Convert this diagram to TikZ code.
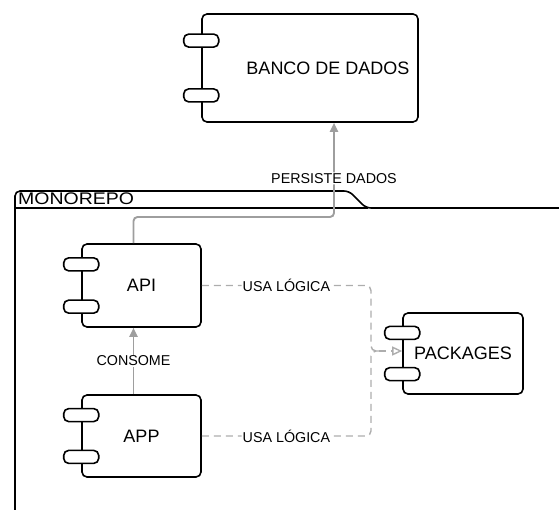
\documentclass[tikz,border=0pt]{standalone}
\usepackage{fontspec}
\setmainfont{Liberation Sans}
\usetikzlibrary{arrows.meta,calc}

\begin{document}
\begin{tikzpicture}[x=1pt,y=-1pt,>={Triangle[length=9pt,width=8pt]},
        font=\fontsize{18}{20}\selectfont]
    \tikzset{
        comp/.style={draw,line width=1.6pt,rounded corners=5pt,inner sep=0pt},
        tab/.style={draw,fill=white,line width=1.6pt,rounded corners=5pt},
        link/.style={draw=black!38,line width=1.9pt},
        dlink/.style={draw=black!32,line width=1.4pt,dash pattern=on 7pt off 5pt},
        lbl/.style={font=\fontsize{14.3}{16}\selectfont,fill=white,inner sep=1pt}
    }
    % two little tabs on the left side of a component
    \def\tabs#1{\foreach \tb in {0.25,0.75}
        \draw[tab] ($(#1.north west)!\tb!(#1.south west)+(-17.5,-6.5)$) rectangle ++(35,13);}
    \useasboundingbox (0,0) rectangle (559,510);
    %===========================================
    % container
    \draw[line width=1.6pt,rounded corners=5pt] (15,515) -- (15,191) -- (349,191)
        -- (366,208) -- (565,208);
    \draw[line width=1.6pt] (15,208) -- (368,208);
    \node[anchor=base west,inner sep=0pt,font=\fontsize{16.8}{18}\selectfont,
        xscale=1.16] (mono) at (18,205) {MONOREPO};
    %===========================================
    % components
    \node[comp,minimum width=216pt,minimum height=108pt] (db) at (310,68) {};
    \node (dbtxt) at ([xshift=18]db.center) {BANCO DE DADOS};
    \node[comp,minimum width=119pt,minimum height=83pt] (api) at (141.5,285.5) {API};
    \node[comp,minimum width=119pt,minimum height=82pt] (app) at (141.5,436) {APP};
    \node[comp,minimum width=120pt,minimum height=81pt] (pk) at (463,353.5) {PACKAGES};
    \foreach \c in {db,api,app,pk} \tabs{\c};
    %===========================================
    % connectors
    \coordinate (bend) at (334,217);
    \draw[link,->,rounded corners=4pt] ([xshift=-8]api.north) |- (bend)
        -- node[lbl,pos=0.41] {PERSISTE DADOS} ([xshift=24]db.south);
    \draw[link,->] ([xshift=-8]app.north) -- node[lbl] {CONSOME} ([xshift=-8]api.south);
    \coordinate (split) at (371,351);
    \coordinate (jn) at (379,351);
    \draw[dlink,rounded corners=5pt] (api.east) -| node[lbl,pos=0.25] {USA LÓGICA} (split) -- (jn);
    \draw[dlink,rounded corners=5pt] (app.east) -| node[lbl,pos=0.25] {USA LÓGICA} (split) -- (jn);
    \draw[dlink,-{Triangle[open,length=10pt,width=9pt]}] (jn) -- (jn -| pk.west);
\end{tikzpicture}
\end{document}
